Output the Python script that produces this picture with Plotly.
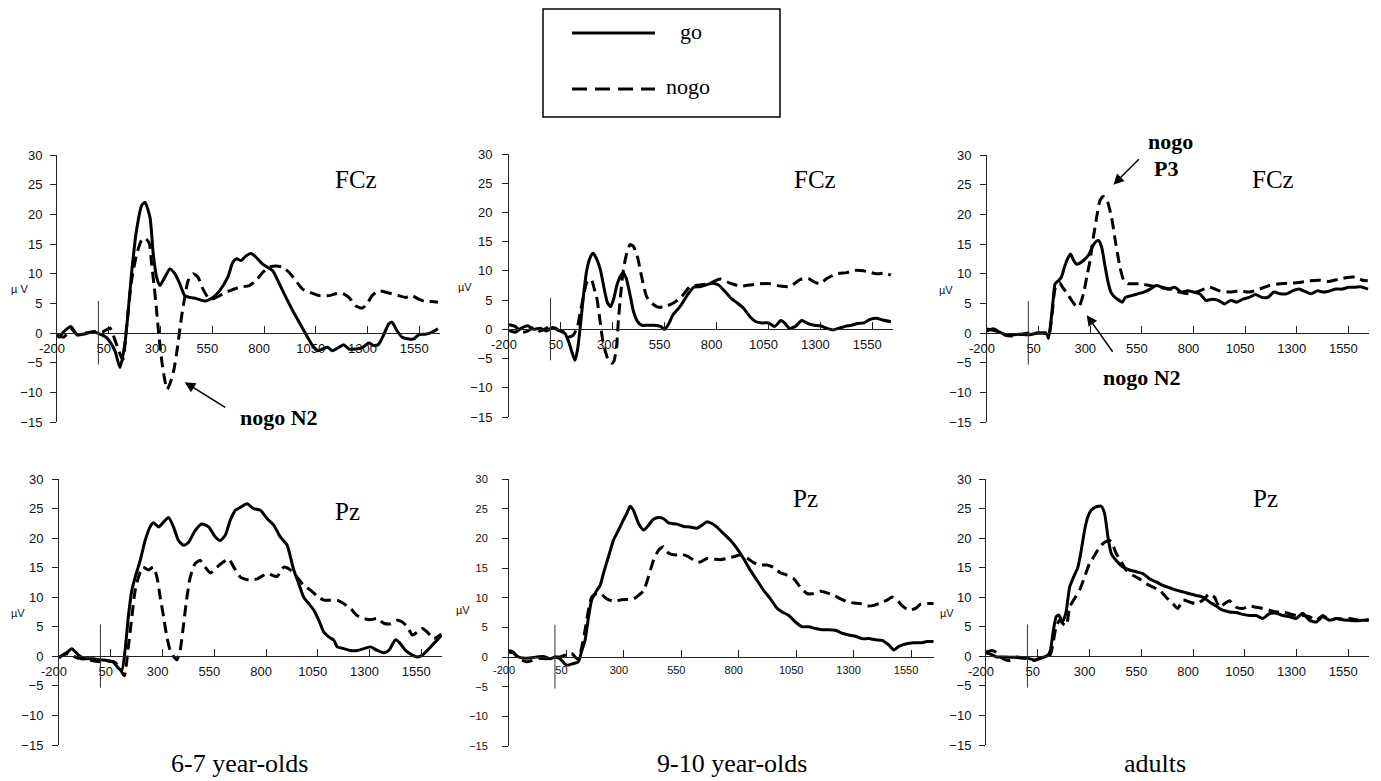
import plotly.graph_objects as go

# ---------------- data (time in ms, amplitude in µV) ----------------
T_FCZ_67_GO = [-200,-190,-168,-133,-104,-72,-24,8,40,56,80,104,128,143,160,184,209,225,249,265,281,297,321,345,369,393,417,441,473,513,553,585,625,649,668,689,713,737,761,793,817,842,874,906,938,970,1002,1034,1058,1082,1106,1130,1162,1186,1210,1242,1274,1306,1330,1354,1378,1402,1418,1442,1467,1499,1523,1547,1579,1611,1640]
V_FCZ_67_GO = [-0.4,-0.7,0.2,1.1,-0.3,-0.2,0.2,-0.2,-0.8,-1.5,-3.0,-5.8,-1.8,3.3,10.0,17.3,21.5,22.0,19.5,13.3,9.4,8.0,9.4,10.8,10.0,8.3,6.3,6.0,5.8,5.4,6.0,7.1,9.4,11.9,12.5,12.2,13.0,13.4,12.8,11.6,11.1,10.5,8.3,6.0,3.8,1.8,-0.2,-2.1,-3.0,-2.7,-2.4,-3.0,-2.4,-2.0,-2.7,-2.7,-2.5,-1.7,-2.1,-1.9,-0.3,1.5,1.8,0.4,-0.7,-1.0,-1.0,-0.3,-0.2,0.1,0.7]
T_FCZ_67_NOGO = [-200,-168,-130,-100,-60,-20,20,56,80,104,118,136,160,185,208,225,245,257,268,281,293,308,321,332,345,364,382,401,417,433,457,481,505,537,569,601,633,681,729,761,793,825,857,890,922,954,986,1018,1066,1114,1146,1178,1210,1242,1274,1298,1322,1354,1386,1418,1451,1483,1515,1547,1579,1610,1640]
V_FCZ_67_NOGO = [-0.3,-0.7,0.6,-0.3,0.0,0.2,0.2,0.8,-1.2,-3.5,-4.5,1.0,8.8,13.3,15.6,16.0,15.2,11.6,8.3,3.8,-0.7,-5.2,-8.0,-9.5,-8.6,-6.3,-2.4,2.6,6.0,8.8,10.0,9.4,7.4,5.7,6.0,6.6,7.1,7.7,8.0,8.8,10.2,11.1,11.3,11.1,10.2,8.8,7.4,6.9,6.3,6.3,6.6,6.7,6.0,4.6,4.2,4.9,6.3,7.1,6.9,6.6,6.3,6.0,6.3,5.7,5.3,5.3,5.2]

T_FCZ_910_GO = [-200,-170,-140,-110,-80,-50,-20,10,40,70,90,105,118,130,145,160,175,190,205,220,240,260,275,290,305,320,340,350,365,385,400,420,440,470,500,530,550,570,590,610,630,660,690,720,750,780,810,840,870,900,930,960,990,1020,1050,1080,1110,1130,1150,1180,1210,1240,1270,1300,1330,1360,1390,1420,1450,1480,1510,1540,1570,1600,1640]
V_FCZ_910_GO = [-0.2,-0.5,0.2,0.6,0.0,0.2,-0.3,0.3,-0.2,-0.7,-2.4,-4.1,-5.3,-3.5,1.0,6.2,10.2,12.2,13.0,12.2,10.2,6.7,4.5,3.9,5.3,7.6,9.3,9.7,8.7,5.6,3.0,1.3,0.7,0.7,0.7,0.5,0.0,1.0,2.5,3.3,4.2,5.9,7.2,7.3,7.6,7.9,7.6,6.5,5.3,4.5,3.6,2.2,1.3,1.1,1.1,0.5,1.5,1.0,0.2,0.5,1.5,1.0,0.7,0.6,0.2,-0.1,0.2,0.5,0.7,1.0,1.1,1.7,1.9,1.6,1.3]
T_FCZ_910_NOGO = [-200,-170,-140,-110,-80,-50,-20,10,40,70,90,110,130,142,158,174,186,198,210,222,238,254,279,295,305,318,327,340,351,367,383,399,418,439,463,487,519,552,592,632,672,720,768,817,865,913,961,1009,1058,1106,1154,1202,1242,1266,1298,1331,1379,1427,1475,1523,1571,1612,1640]
V_FCZ_910_NOGO = [0.8,0.5,-0.5,-0.3,0.3,-0.3,0.2,0.5,-0.2,-0.5,-1.3,-1.0,0.5,2.7,5.5,8.0,8.5,8.5,7.0,5.6,1.6,-2.4,-5.3,-5.8,-5.5,-3.0,1.6,6.7,10.2,13.0,14.5,14.2,12.5,9.0,5.6,4.5,3.8,3.9,4.5,5.6,7.3,7.6,7.9,8.6,7.9,7.4,7.6,7.8,7.8,7.4,7.3,8.5,8.7,8.2,7.8,8.7,9.5,9.7,10.1,9.9,9.5,9.6,9.3]

T_FCZ_AD_GO = [-200,-150,-100,-50,0,50,90,98,110,120,130,145,160,175,190,205,220,235,255,275,295,310,325,340,355,370,385,400,420,440,455,470,500,530,560,590,620,650,680,710,740,770,800,830,860,890,920,950,980,1010,1040,1070,1100,1130,1160,1190,1220,1250,1280,1310,1340,1370,1400,1430,1460,1490,1520,1550,1580,1610,1645]
V_FCZ_AD_GO = [0.7,0.3,-0.4,-0.2,-0.3,0.0,-0.2,-0.9,2.1,5.5,8.3,8.8,9.4,11.1,12.5,13.3,12.2,11.6,11.9,12.5,13.3,14.5,15.3,15.6,14.5,11.6,8.8,6.9,6.0,5.5,5.2,6.0,6.3,6.6,6.9,7.4,8.0,7.7,7.4,7.7,6.9,7.1,6.9,6.6,5.5,5.7,5.5,4.9,5.5,5.2,5.7,6.0,6.5,6.0,6.0,6.9,6.6,6.6,7.1,7.4,7.0,6.6,7.1,6.9,7.1,7.4,7.4,7.7,7.7,7.8,7.4]
T_FCZ_AD_NOGO = [-200,-170,-140,-110,-80,-50,0,50,90,100,115,130,150,170,190,210,230,245,267,283,299,315,331,347,363,382,403,424,444,463,484,508,540,588,637,685,733,781,830,878,926,975,1023,1071,1119,1168,1216,1264,1312,1361,1409,1457,1506,1554,1586,1618,1644]
V_FCZ_AD_NOGO = [0.3,0.7,0.2,-0.4,-0.5,-0.3,0.0,0.0,0.0,-0.3,3.0,7.5,8.5,7.5,6.6,5.5,4.6,4.4,6.6,9.4,12.2,16.1,19.5,22.3,23.0,22.3,19.5,15.0,11.1,8.8,8.3,8.3,8.3,8.0,7.7,7.4,6.9,6.6,7.1,7.7,7.1,6.9,7.1,6.9,7.4,8.0,8.3,8.4,8.5,8.8,8.9,8.7,9.1,9.4,9.4,8.9,8.8]

T_PZ_67_GO = [-200,-171,-139,-106,-74,-34,-2,31,63,87,103,119,135,152,168,192,216,240,256,281,305,329,353,377,402,426,458,490,523,555,579,603,627,652,676,708,740,773,805,837,869,902,918,934,958,982,1007,1031,1055,1079,1103,1128,1144,1176,1208,1240,1273,1305,1337,1369,1393,1426,1450,1474,1507,1531,1555,1579,1603,1628,1647]
V_PZ_67_GO = [-0.1,0.3,1.3,0.2,-0.4,-0.4,-0.6,-0.7,-1.0,-2.0,-2.4,1.0,6.7,11.2,13.4,16.2,19.6,21.9,22.6,21.9,22.7,23.5,21.9,19.6,18.8,19.3,21.3,22.4,21.9,20.2,19.6,20.5,23.0,24.7,25.2,25.8,25.0,24.7,23.3,22.2,20.2,18.8,16.8,14.6,12.3,10.0,8.9,7.8,6.1,4.1,3.3,2.7,1.6,1.3,1.0,1.0,1.3,1.6,1.0,0.6,1.0,2.8,2.1,1.0,0.2,-0.1,0.2,1.0,1.9,2.8,3.6]
T_PZ_67_NOGO = [-200,-170,-140,-110,-70,-30,0,40,70,90,115,135,152,168,184,205,232,256,273,289,305,321,337,353,369,385,402,418,434,458,482,506,531,563,595,619,644,676,716,757,805,853,886,918,950,982,1015,1047,1079,1111,1144,1176,1208,1240,1273,1305,1337,1369,1402,1434,1458,1482,1507,1531,1555,1579,1611,1647]
V_PZ_67_NOGO = [-0.3,0.5,0.2,-0.3,-0.5,-0.8,-0.9,-0.8,-1.0,-1.8,-3.3,1.6,6.7,11.2,13.4,15.1,14.6,15.1,13.4,10.0,6.7,3.3,1.0,0.0,-0.6,1.0,5.5,10.0,13.4,15.7,16.2,15.1,14.1,15.1,16.0,16.5,15.1,13.4,12.9,13.1,14.0,13.5,15.1,14.6,13.4,12.0,11.2,10.2,9.5,9.5,9.5,8.9,8.1,6.9,6.4,6.2,6.4,5.6,5.5,6.1,5.8,5.0,3.6,4.1,4.7,4.1,3.0,3.8]

T_PZ_910_GO = [-200,-181,-159,-123,-79,-50,-21,1,22,51,80,102,117,131,146,160,182,197,211,233,255,277,298,313,327,342,364,386,407,429,451,473,495,531,560,589,618,640,662,683,705,734,763,792,821,851,880,909,938,967,989,1018,1047,1076,1105,1134,1163,1192,1221,1250,1279,1308,1337,1366,1395,1424,1454,1475,1497,1526,1562,1592,1620,1648]
V_PZ_910_GO = [0.8,0.7,0.0,-0.2,0.0,0.1,-0.3,0.0,-0.3,-1.4,-1.1,-0.8,1.1,2.8,6.7,9.6,11.2,12.1,14.1,16.9,19.7,21.4,23.1,24.2,25.4,24.7,22.5,21.4,22.2,23.2,23.5,23.3,22.6,22.4,22.0,21.9,21.7,22.2,22.8,22.5,21.9,20.8,19.7,18.3,16.6,14.6,12.9,11.2,9.8,8.2,7.6,7.0,5.9,5.1,5.1,4.8,4.6,4.6,4.5,4.0,3.7,3.5,3.1,3.1,2.9,2.8,2.0,1.2,1.8,2.2,2.4,2.4,2.6,2.6]
T_PZ_910_NOGO = [-200,-181,-159,-123,-101,-72,-36,-7,22,51,73,88,102,117,131,146,160,182,204,226,255,284,313,342,364,386,407,429,451,473,495,524,553,582,611,633,662,691,720,749,778,807,836,865,894,923,952,981,1010,1039,1068,1097,1127,1156,1185,1214,1243,1272,1301,1330,1359,1388,1417,1446,1468,1490,1512,1541,1570,1592,1620,1648]
V_PZ_910_NOGO = [1.1,0.8,-0.3,-0.8,-0.6,-0.2,-0.3,0.0,0.0,0.4,0.6,0.0,-0.4,1.7,4.5,7.9,10.1,10.7,10.5,9.8,9.4,9.6,9.7,9.8,10.4,11.2,13.5,16.3,18.0,18.6,17.5,17.2,17.3,16.9,16.1,16.0,16.6,16.5,16.4,16.6,16.9,17.2,16.7,15.9,15.5,15.5,15.1,14.2,13.8,13.2,11.8,10.7,10.7,11.1,10.8,10.4,9.8,9.3,9.1,9.0,8.6,8.7,9.1,9.6,10.1,9.6,8.6,7.9,8.2,8.9,9.0,9.0]

T_PZ_AD_GO = [-200,-174,-150,-102,-54,-5,35,59,83,99,111,123,139,152,168,185,204,223,244,260,276,292,308,333,357,373,389,405,429,461,493,526,558,590,622,654,687,719,751,783,815,847,880,912,944,976,1008,1041,1073,1105,1137,1169,1201,1234,1266,1298,1330,1362,1395,1427,1459,1491,1523,1555,1588,1620,1649]
V_PZ_AD_GO = [0.6,0.3,-0.1,-0.1,-0.2,-0.3,-0.6,-0.4,-0.1,0.2,1.0,3.8,6.7,7.0,5.8,7.2,11.7,13.4,15.1,17.9,21.3,23.6,24.7,25.3,25.4,24.1,20.2,17.4,16.2,15.1,14.6,14.3,14.0,13.1,12.6,12.0,11.6,11.2,10.9,10.6,10.3,10.0,9.2,8.5,7.8,7.5,7.4,7.1,6.9,6.9,6.4,7.2,7.3,6.9,6.7,6.4,7.3,6.1,5.8,6.7,6.1,6.4,6.2,6.1,6.0,6.1,6.1]
T_PZ_AD_NOGO = [-200,-174,-150,-118,-86,-54,-5,35,59,91,111,123,139,156,172,188,204,228,252,276,300,325,349,373,397,413,429,453,477,510,542,574,606,638,670,703,727,751,783,815,847,880,904,928,952,976,1008,1041,1073,1105,1137,1169,1201,1234,1266,1298,1330,1362,1395,1427,1459,1491,1523,1555,1588,1620,1649]
V_PZ_AD_NOGO = [0.7,1.0,0.7,-0.4,-0.7,-0.1,-0.4,-0.7,-0.3,0.0,0.3,2.1,5.0,6.1,5.5,5.2,8.3,9.8,11.2,13.4,15.7,17.1,18.5,19.3,19.6,18.8,17.4,16.0,14.6,13.7,13.1,12.3,11.7,11.2,10.0,8.9,8.1,9.5,9.2,8.9,9.5,10.6,10.0,8.3,8.9,9.4,8.3,8.1,8.5,8.3,8.1,7.8,7.5,7.5,7.2,6.9,6.9,6.7,6.1,6.9,6.1,6.4,6.3,6.4,6.2,6.1,6.2]

X_TICKS = [-200, 50, 300, 550, 800, 1050, 1300, 1550]
Y_TICKS = [-15, -10, -5, 0, 5, 10, 15, 20, 25, 30]
X_RANGE = [-200, 1650]
Y_RANGE = [-15, 30]
ONSET_MS = 0
ONSET_SPAN = [-5.3, 5.4]

SITES = ["FCz", "FCz", "FCz", "Pz", "Pz", "Pz"]
GROUPS = ["6-7 year-olds", "9-10 year-olds", "adults"]
UNIT_LABELS = ["µ V", "µV", "µV", "µV", "µV", "µV"]
SERIES = [
    (T_FCZ_67_GO, V_FCZ_67_GO, T_FCZ_67_NOGO, V_FCZ_67_NOGO),
    (T_FCZ_910_GO, V_FCZ_910_GO, T_FCZ_910_NOGO, V_FCZ_910_NOGO),
    (T_FCZ_AD_GO, V_FCZ_AD_GO, T_FCZ_AD_NOGO, V_FCZ_AD_NOGO),
    (T_PZ_67_GO, V_PZ_67_GO, T_PZ_67_NOGO, V_PZ_67_NOGO),
    (T_PZ_910_GO, V_PZ_910_GO, T_PZ_910_NOGO, V_PZ_910_NOGO),
    (T_PZ_AD_GO, V_PZ_AD_GO, T_PZ_AD_NOGO, V_PZ_AD_NOGO),
]

# ---------------- layout geometry (screen pixels of the page) ----------------
PAGE_W, PAGE_H = 1381, 781
OFF = 8                      # page body margin in front of the figure
W, H = PAGE_W - OFF, PAGE_H - OFF
PANELS = [  # x0, x1, ytop, ybottom, tick font, y label standoff
    dict(x=(57, 440), y=(155, 422), fs=13, ys=5),
    dict(x=(509, 893), y=(154, 417), fs=13, ys=7),
    dict(x=(987, 1369), y=(155, 422), fs=13, ys=6),
    dict(x=(59, 442), y=(479, 745), fs=13, ys=6),
    dict(x=(509, 934), y=(479, 746), fs=11, ys=12),
    dict(x=(986, 1369), y=(479, 745), fs=13, ys=5),
]
SITE_POS = [(356, 180), (815, 179), (1273, 180), (347, 511), (805, 498), (1265, 498)]
UNIT_POS = [(19, 289), (465, 287), (946, 290), (18, 613), (463, 610), (947, 613)]
GROUP_POS = [(239, 763), (732, 763), (1155, 763)]

def fx(px):
    return (px - OFF) / W

def fy(py):
    return 1 - (py - OFF) / H

SANS = "Liberation Sans, Arial, sans-serif"
SERIF = "Liberation Serif, Times New Roman, serif"
AX = "#222222"

fig = go.Figure()
layout = dict(
    template="none",
    width=W, height=H, margin=dict(l=0, r=0, t=0, b=0, pad=0, autoexpand=False),
    paper_bgcolor="white", plot_bgcolor="rgba(0,0,0,0)",
    showlegend=False, shapes=[], annotations=[],
)

for i, (p, s) in enumerate(zip(PANELS, SERIES), start=1):
    x0, x1 = p["x"]
    yt, yb = p["y"]
    zero_px = yt + (Y_RANGE[1] - 0) / (Y_RANGE[1] - Y_RANGE[0]) * (yb - yt)
    xa = f"xaxis{i}" if i > 1 else "xaxis"
    ya = f"yaxis{i}" if i > 1 else "yaxis"
    xr = f"x{i}" if i > 1 else "x"
    yr = f"y{i}" if i > 1 else "y"
    layout[xa] = dict(
        domain=[fx(x0), fx(x1)], range=X_RANGE, anchor="free", position=fy(zero_px),
        automargin=False,
        tickmode="array", tickvals=X_TICKS, ticktext=[str(v) for v in X_TICKS],
        ticks="inside", ticklen=7, tickcolor=AX, tickwidth=1,
        showline=True, linecolor=AX, linewidth=1, showgrid=False, zeroline=False,
        tickfont=dict(family=SANS, size=p["fs"], color="#111"),
        ticklabelshift=-5, ticklabelstandoff=3,
    )
    layout[ya] = dict(
        domain=[fy(yb), fy(yt)], range=Y_RANGE, anchor=xr, automargin=False,
        tickmode="array", tickvals=Y_TICKS,
        ticks="outside", ticklen=6, tickcolor=AX, tickwidth=1,
        showline=True, linecolor=AX, linewidth=1, showgrid=False, zeroline=False,
        tickfont=dict(family=SANS, size=p["fs"], color="#111"),
        ticklabelstandoff=p["ys"],
    )
    # inner half of the crossing y ticks
    layout[f"yaxis{i + 6}"] = dict(
        overlaying=yr, anchor=xr, range=Y_RANGE, automargin=False,
        tickmode="array", tickvals=Y_TICKS,
        ticks="inside", ticklen=6, tickcolor=AX, tickwidth=1,
        showticklabels=False, showline=False, showgrid=False, zeroline=False,
    )
    tg, vg, tn, vn = s
    fig.add_trace(go.Scatter(x=tg, y=vg, xaxis=xr, yaxis=yr, mode="lines", name="go",
                             line=dict(color="black", width=3, shape="spline", smoothing=0.6)))
    fig.add_trace(go.Scatter(x=tn, y=vn, xaxis=xr, yaxis=yr, mode="lines", name="nogo",
                             line=dict(color="black", width=3, dash="11px,6px",
                                       shape="spline", smoothing=0.6)))
    # stimulus onset marker
    layout["shapes"].append(dict(type="line", xref=xr, yref=yr, x0=ONSET_MS, x1=ONSET_MS,
                                 y0=ONSET_SPAN[0], y1=ONSET_SPAN[1],
                                 line=dict(color="#333", width=1)))
    sx, sy = SITE_POS[i - 1]
    layout["annotations"].append(dict(text=SITES[i - 1], xref="paper", yref="paper",
                                      x=fx(sx), y=fy(sy), showarrow=False,
                                      xanchor="center", yanchor="middle",
                                      font=dict(family=SERIF, size=25, color="black")))
    ux, uy = UNIT_POS[i - 1]
    layout["annotations"].append(dict(text=UNIT_LABELS[i - 1], xref="paper", yref="paper",
                                      x=fx(ux), y=fy(uy), showarrow=False,
                                      xanchor="center", yanchor="middle",
                                      font=dict(family=SANS, size=11, color="#111")))

for g, (gx, gy) in zip(GROUPS, GROUP_POS):
    layout["annotations"].append(dict(text=g, xref="paper", yref="paper", x=fx(gx), y=fy(gy),
                                      showarrow=False, xanchor="center", yanchor="middle",
                                      font=dict(family=SERIF, size=26, color="black")))

# component labels with arrows
BOLD = dict(family=SERIF, size=22, color="black")
layout["annotations"] += [
    dict(text="<b>nogo N2</b>", xref="paper", yref="paper", x=fx(279), y=fy(417),
         showarrow=False, xanchor="center", yanchor="middle", font=BOLD),
    dict(text="", xref="x", yref="y", x=417, y=-8.3, ax=42, ay=26, showarrow=True,
         arrowhead=2, arrowsize=1.4, arrowwidth=1.5, arrowcolor="black"),
    dict(text="<b>nogo</b>", xref="paper", yref="paper", x=fx(1170), y=fy(142),
         showarrow=False, xanchor="center", yanchor="middle", font=BOLD),
    dict(text="<b>P3</b>", xref="paper", yref="paper", x=fx(1166), y=fy(168),
         showarrow=False, xanchor="center", yanchor="middle", font=BOLD),
    dict(text="", xref="x3", yref="y3", x=412, y=25.0, ax=27, ay=-27, showarrow=True,
         arrowhead=2, arrowsize=1.4, arrowwidth=1.5, arrowcolor="black"),
    dict(text="<b>nogo N2</b>", xref="paper", yref="paper", x=fx(1142), y=fy(378),
         showarrow=False, xanchor="center", yanchor="middle", font=BOLD),
    dict(text="", xref="x3", yref="y3", x=283, y=3.0, ax=27, ay=38, showarrow=True,
         arrowhead=2, arrowsize=1.4, arrowwidth=1.5, arrowcolor="black"),
]

# legend box
layout["shapes"] += [
    dict(type="rect", xref="paper", yref="paper", x0=fx(543), x1=fx(780), y0=fy(117), y1=fy(9),
         line=dict(color="black", width=1.5)),
    dict(type="line", xref="paper", yref="paper", x0=fx(572), x1=fx(655), y0=fy(33), y1=fy(33),
         line=dict(color="black", width=3)),
    dict(type="line", xref="paper", yref="paper", x0=fx(572), x1=fx(655), y0=fy(89), y1=fy(89),
         line=dict(color="black", width=3, dash="15px,8px")),
]
layout["annotations"] += [
    dict(text="go", xref="paper", yref="paper", x=fx(678), y=fy(32), showarrow=False,
         xanchor="left", yanchor="middle", font=dict(family=SERIF, size=22, color="black")),
    dict(text="nogo", xref="paper", yref="paper", x=fx(664), y=fy(86), showarrow=False,
         xanchor="left", yanchor="middle", font=dict(family=SERIF, size=22, color="black")),
]

fig.update_layout(**layout)
fig.write_html("out.html")
